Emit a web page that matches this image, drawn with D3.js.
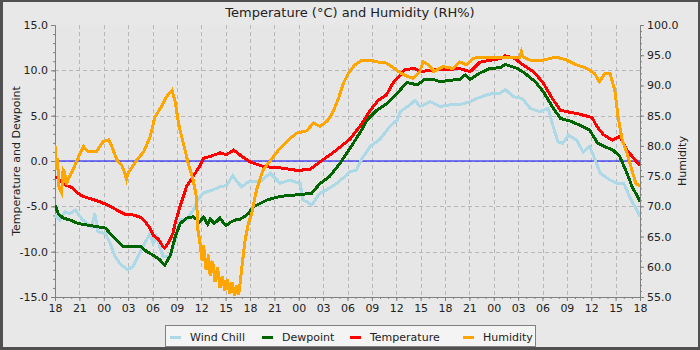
<!DOCTYPE html>
<html>
<head>
<meta charset="utf-8">
<script src="https://cdn.jsdelivr.net/npm/d3@7/dist/d3.min.js"></script>
<style>
  html, body { margin: 0; padding: 0; background: #e8e8e8; }
  svg { display: block; font-family: "DejaVu Sans", sans-serif; }
</style>
</head>
<body>
<svg id="chart" width="700" height="350"></svg>
<script>
// Three days of readings, starting 18:00. Each point is [hours since start, value].
const startHour = 18;
const spanHours = 72;
const xTickHours = d3.range(0, spanHours + 1, 3);
const leftTicks = [-15, -10, -5, 0, 5, 10, 15];
const rightTicks = [55, 60, 65, 70, 75, 80, 85, 90, 95, 100];

const windChill = [[0,-5.95],[0.6,-6.5],[1.2,-5.6],[1.8,-5.8],[2.5,-5.4],[3.1,-6.15],[3.4,-6.5],[4.5,-7.25],[4.9,-5.8],[5.3,-7.8],[6.2,-8.0],[6.8,-9.1],[7.4,-10.55],[8,-11.3],[8.9,-12.0],[9.6,-11.65],[10.2,-10.55],[10.8,-9.45],[11.7,-8.0],[12.1,-9.1],[12.5,-8.35],[13.3,-10.55],[14.2,-10.55],[14.8,-8.7],[15.4,-6.5],[16.2,-6.5],[17,-5.4],[17.6,-4.3],[18.2,-3.55],[19.4,-3.2],[20.3,-2.85],[21.1,-2.7],[21.9,-1.6],[22.4,-2.3],[23,-2.85],[23.8,-2.3],[25.2,-2.3],[26.5,-1.35],[27.7,-2.45],[28.9,-2.1],[30.2,-2.5],[30.5,-4.3],[31,-4.5],[31.6,-4.85],[32.6,-3.55],[33.4,-3.2],[34.7,-2.45],[35.9,-1.55],[36.3,-1.2],[37.1,-1.0],[37.8,0.3],[38.8,1.6],[40,2.4],[41.2,3.8],[42.1,4.5],[42.5,5.45],[43.7,6.2],[44.3,6.7],[44.9,6.0],[46.2,6.55],[47.4,6.0],[48.6,6.2],[49.8,6.2],[51.1,6.55],[51.9,6.9],[53.2,7.3],[53.9,7.45],[54.8,7.45],[55.4,7.9],[56.4,7.1],[57.5,6.9],[58.5,5.8],[59.7,5.45],[60.7,5.8],[61.2,4.15],[61.9,2.1],[62.5,1.95],[63.2,2.85],[64.2,2.3],[65,1.0],[65.8,1.6],[66.5,0.1],[67.1,-1.35],[68.3,-2.1],[69.2,-2.45],[70,-2.45],[70.8,-4.1],[71.6,-5.4],[72,-6.1]];

const dewpoint = [[0,-4.85],[0.4,-5.8],[1,-6.3],[1.8,-6.5],[2.9,-6.9],[3.9,-7.05],[5.2,-7.25],[6.2,-7.4],[6.8,-8.0],[7.6,-8.7],[8.4,-9.45],[9.4,-9.4],[10.5,-9.4],[11.3,-10.0],[12.1,-10.4],[12.9,-10.9],[13.5,-11.5],[14.2,-10.4],[14.8,-8.35],[15.4,-6.9],[16.2,-6.3],[17,-6.15],[17.8,-6.7],[18.3,-6.2],[18.8,-7.0],[19.1,-6.4],[19.6,-6.9],[20.3,-6.3],[20.8,-6.9],[21.1,-7.1],[21.5,-6.8],[22.2,-6.5],[22.8,-6.4],[23.4,-6.1],[23.8,-5.8],[24.4,-5.05],[26.1,-4.3],[27.7,-3.9],[30.2,-3.7],[31.6,-3.55],[32.6,-2.5],[33.8,-1.7],[35.1,-0.25],[36.3,1.4],[37.5,3.05],[38.4,4.5],[39.6,5.6],[40.9,6.35],[42.1,7.45],[43.3,8.65],[44.6,8.4],[45.5,9.0],[46.5,9.0],[47.4,8.75],[48.6,8.9],[49.8,9.0],[50.5,9.5],[51.1,9.0],[52.3,9.7],[53.5,10.2],[54.8,10.3],[55.4,10.65],[56.9,10.2],[57.8,9.7],[59.1,8.75],[60.1,7.65],[61.2,6.0],[62.2,4.7],[63.4,4.4],[64.6,3.95],[65.8,3.4],[66.8,1.95],[67.9,1.5],[68.7,1.2],[69.5,0.5],[70.4,-1.35],[71.1,-3.0],[71.7,-3.9],[72,-4.5]];

const temperature = [[0,-1.7],[0.6,-2.1],[1.2,-2.6],[2.2,-3.0],[2.9,-3.6],[3.4,-3.9],[4.5,-4.2],[5.5,-4.5],[6.5,-4.85],[7.6,-5.4],[8.6,-5.85],[9.6,-5.95],[10.5,-6.2],[11.1,-6.7],[11.7,-7.4],[12.1,-8.2],[12.7,-8.6],[13.3,-9.45],[13.5,-9.6],[13.9,-9.1],[14.5,-8.0],[14.9,-6.5],[15.5,-4.7],[16.2,-2.8],[17,-1.7],[17.8,-0.6],[18.3,0.3],[19.1,0.5],[20.3,0.9],[21.1,0.7],[22,1.2],[23,0.5],[24,-0.1],[25.6,-0.6],[28.1,-0.8],[29.9,-1.05],[31.4,-0.9],[32.6,-0.1],[34.2,0.9],[36.3,2.4],[37.8,4.15],[38.8,5.6],[39.8,6.7],[40.8,7.3],[41.6,8.6],[42.5,9.5],[43.1,10.1],[44.3,10.2],[44.9,9.85],[46.2,10.0],[47.4,10.1],[48.6,10.1],[49.8,10.2],[51.1,9.85],[52.3,10.9],[53.5,11.1],[54.8,11.3],[55.4,11.6],[56.6,11.3],[57.6,10.6],[58.9,9.85],[60.1,8.6],[61.2,6.9],[62.2,5.6],[63.2,5.4],[64.4,5.2],[66.1,4.8],[66.7,3.8],[67.5,2.9],[68.6,2.3],[69.5,2.7],[70.4,1.2],[71.6,-0.1],[72,-0.45]];

const humidity = [[0,80.1],[0.1,76],[0.3,78],[0.5,73],[0.8,72.2],[1.0,76],[1.2,75.5],[1.4,73.5],[1.6,74.4],[2.3,76.3],[2.9,78.2],[3.5,79.9],[4.1,79.0],[5.1,79.0],[5.9,80.7],[6.6,81.0],[7,79.9],[7.6,77.7],[8.2,76.8],[8.6,75.5],[8.8,74.5],[9.0,75.5],[9.4,76.3],[10.1,77.7],[10.9,79.0],[11.7,81.5],[12.3,84.8],[13.1,86.5],[13.7,88.1],[14.4,89.2],[14.8,87.3],[15.2,83.7],[15.8,80.4],[16.4,77.1],[17,74.4],[17.4,71.6],[17.6,66],[17.8,64.4],[18.1,61],[18.3,63.5],[18.6,59.5],[18.9,62],[19.1,58.5],[19.4,61],[19.7,57.5],[20,60],[20.3,56.5],[20.6,58.5],[20.9,56],[21.2,58],[21.5,55.5],[21.8,57.5],[22.1,55.2],[22.4,57],[22.6,55.3],[22.8,57.5],[23,60],[23.4,64.4],[23.8,67.2],[24.2,68.8],[24.8,72.7],[25.6,76.0],[26.7,77.9],[27.7,79.6],[28.5,80.7],[29.7,82.1],[31,82.5],[31.8,83.8],[32.6,83.2],[33.4,84.0],[33.8,84.6],[34.3,85.9],[34.9,87.9],[35.5,90.4],[36.1,92.0],[36.9,93.4],[37.7,94.1],[39,94.1],[40,93.8],[40.8,93.7],[41.8,92.8],[42.5,92.1],[43.3,91.5],[44.1,91.2],[44.9,92.3],[45.3,93.9],[46,93.4],[46.6,92.3],[47.8,93.1],[49,92.8],[49.8,93.9],[50.7,93.4],[51.5,94.5],[52.3,94.7],[53.5,94.7],[54.8,94.7],[55.6,94.7],[57.2,94.7],[57.4,95.6],[57.6,94.7],[58.5,94.2],[60.1,94.2],[61.7,94.7],[63,94.2],[64.2,93.4],[65.5,92.8],[66.4,92.0],[67,90.6],[67.7,92.0],[68.3,92.0],[68.9,89.2],[69.3,84.8],[69.8,81.0],[70.4,78.8],[71,76.0],[71.5,73.8],[72,73.3]];

const seriesNames = ["Wind Chill", "Dewpoint", "Temperature", "Humidity"];
const seriesColors = ["#add8e6", "#006400", "#ff0000", "#ffa500"];

// ---- layout ----
const W = 700, H = 350;
const plot = { left: 55, right: 640, top: 25, bottom: 297 };

const svg = d3.select("#chart");

// frame and background
svg.append("rect").attr("width", W).attr("height", H).attr("fill", "#505050");
svg.append("rect").attr("x", 3).attr("y", 2).attr("width", W - 5).attr("height", H - 5).attr("fill", "#e8e8e8");

const x = d3.scaleLinear().domain([0, spanHours]).range([plot.left, plot.right]);
const yL = d3.scaleLinear().domain([-15, 15]).range([plot.bottom, plot.top]);
const yR = d3.scaleLinear().domain([55, 100]).range([plot.bottom, plot.top]);

// plot background
svg.append("rect")
  .attr("x", plot.left).attr("y", plot.top)
  .attr("width", plot.right - plot.left).attr("height", plot.bottom - plot.top)
  .attr("fill", "#e6e6e6");

// grid
const grid = svg.append("g").attr("stroke", "#b8b8b8").attr("stroke-width", 1).attr("stroke-dasharray", "4,3");
grid.selectAll("line.v").data(xTickHours.filter(h => h > 0 && h < spanHours)).join("line")
  .attr("x1", d => Math.round(x(d)) + 0.5).attr("x2", d => Math.round(x(d)) + 0.5)
  .attr("y1", plot.top).attr("y2", plot.bottom);
grid.selectAll("line.h").data(leftTicks.filter(v => v > -15 && v < 15)).join("line")
  .attr("y1", d => Math.round(yL(d)) + 0.5).attr("y2", d => Math.round(yL(d)) + 0.5)
  .attr("x1", plot.left).attr("x2", plot.right);

// zero marker
svg.append("line")
  .attr("x1", plot.left).attr("x2", plot.right)
  .attr("y1", yL(0)).attr("y2", yL(0))
  .attr("stroke", "rgba(0,0,255,0.5)").attr("stroke-width", 2);

// axes
const fmt1 = d => d.toFixed(1);
const hourLabel = h => String((startHour + h) % 24).padStart(2, "0");

function styleAxis(g) {
  g.select(".domain").attr("stroke", "#808080");
  g.selectAll(".tick line").attr("stroke", "#808080");
  g.selectAll(".tick text").attr("fill", "#222").style("font-size", "11px").style("font-family", "DejaVu Sans, sans-serif");
}

// x axis: hourly minor ticks, labelled every 3 h
svg.append("g").attr("transform", `translate(0,${plot.bottom})`)
  .call(d3.axisBottom(x).tickValues(d3.range(0, spanHours + 1, 1)).tickSize(2).tickSizeOuter(0).tickFormat(""))
  .call(styleAxis);
svg.append("g").attr("transform", `translate(0,${plot.bottom})`)
  .call(d3.axisBottom(x).tickValues(xTickHours).tickSize(4).tickSizeOuter(0).tickPadding(3).tickFormat(hourLabel))
  .call(styleAxis);

// left axis
svg.append("g").attr("transform", `translate(${plot.left},0)`)
  .call(d3.axisLeft(yL).tickValues(d3.range(-15, 16, 1)).tickSize(2).tickSizeOuter(0).tickFormat(""))
  .call(styleAxis);
svg.append("g").attr("transform", `translate(${plot.left},0)`)
  .call(d3.axisLeft(yL).tickValues(leftTicks).tickSize(4).tickSizeOuter(0).tickPadding(3).tickFormat(fmt1))
  .call(styleAxis);

// right axis
svg.append("g").attr("transform", `translate(${plot.right},0)`)
  .call(d3.axisRight(yR).tickValues(d3.range(55, 101, 1)).tickSize(2).tickSizeOuter(0).tickFormat(""))
  .call(styleAxis);
svg.append("g").attr("transform", `translate(${plot.right},0)`)
  .call(d3.axisRight(yR).tickValues(rightTicks).tickSize(4).tickSizeOuter(0).tickPadding(3).tickFormat(fmt1))
  .call(styleAxis);

// axis titles and chart title
svg.append("text")
  .attr("transform", `translate(20,${(plot.top + plot.bottom) / 2}) rotate(-90)`)
  .attr("text-anchor", "middle").attr("fill", "#222").style("font-size", "11px")
  .text("Temperature and Dewpoint");
svg.append("text")
  .attr("transform", `translate(686,${(plot.top + plot.bottom) / 2}) rotate(-90)`)
  .attr("text-anchor", "middle").attr("fill", "#222").style("font-size", "11px")
  .text("Humidity");
svg.append("text")
  .attr("x", W / 2).attr("y", 17)
  .attr("text-anchor", "middle").attr("fill", "#222").style("font-size", "13px")
  .text("Temperature (°C) and Humidity (RH%)");

// series
svg.append("clipPath").attr("id", "plotClip").append("rect")
  .attr("x", plot.left).attr("y", plot.top)
  .attr("width", plot.right - plot.left).attr("height", plot.bottom - plot.top);

const lines = svg.append("g").attr("clip-path", "url(#plotClip)");
const leftLine = d3.line().x(d => x(d[0])).y(d => yL(d[1]));
const rightLine = d3.line().x(d => x(d[0])).y(d => yR(d[1]));

[[windChill, leftLine], [dewpoint, leftLine], [temperature, leftLine], [humidity, rightLine]]
  .forEach(([data, gen], i) => {
    lines.append("path")
      .datum(data)
      .attr("d", gen)
      .attr("fill", "none")
      .attr("stroke", seriesColors[i])
      .attr("stroke-width", 3)
      .attr("stroke-linejoin", "miter")
      .attr("shape-rendering", "crispEdges");
  });

// legend
const legend = svg.append("g");
legend.append("rect")
  .attr("x", 165.5).attr("y", 325.5).attr("width", 370).attr("height", 21)
  .attr("fill", "#f4f4f4").attr("stroke", "#808080");
const legendX = [170, 262, 350, 463];
seriesNames.forEach((name, i) => {
  legend.append("line")
    .attr("x1", legendX[i]).attr("x2", legendX[i] + 11)
    .attr("y1", 337.5).attr("y2", 337.5)
    .attr("stroke", seriesColors[i]).attr("stroke-width", 3);
  legend.append("text")
    .attr("x", legendX[i] + 20).attr("y", 341)
    .attr("fill", "#222").style("font-size", "11px")
    .text(name);
});
</script>
</body>
</html>
